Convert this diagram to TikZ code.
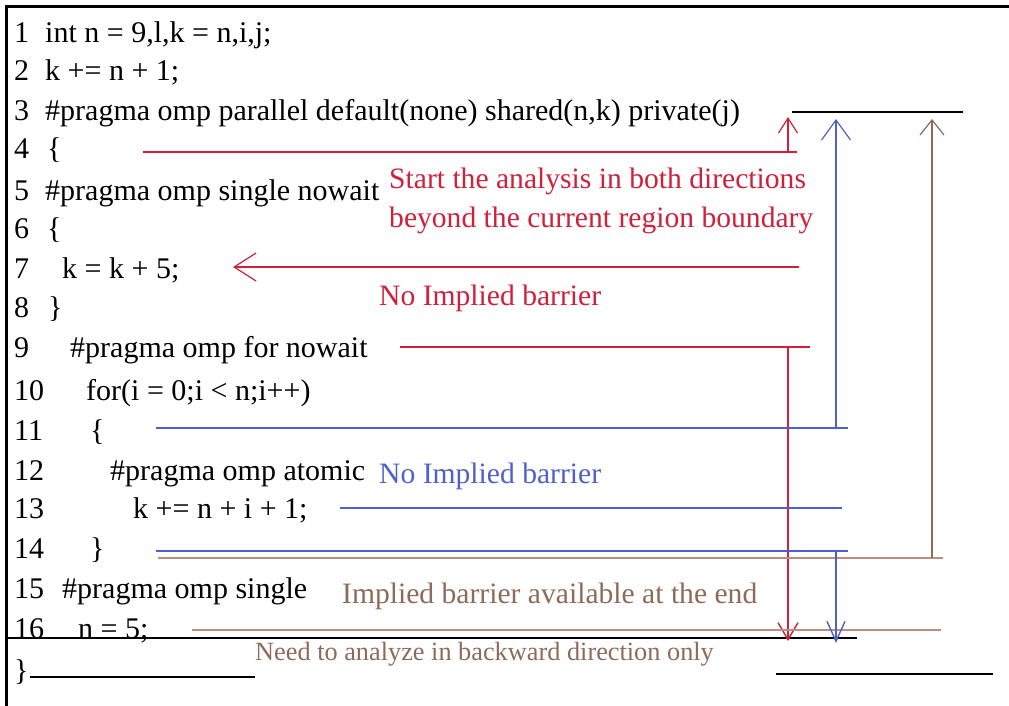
\documentclass[tikz,border=0pt]{standalone}
\usepackage{fontspec}
\setmainfont{Liberation Serif}
\usetikzlibrary{arrows.meta}
\definecolor{cred}{HTML}{D0203A}
\definecolor{cblue}{HTML}{4F60CC}
\definecolor{cbrown}{HTML}{8E6A58}
\definecolor{lbrown}{HTML}{B89080}
\begin{document}
\begin{tikzpicture}[x=1pt,y=-1pt,
  code/.style={anchor=base west,inner sep=0pt,font=\fontsize{30}{35}\selectfont},
  note/.style={anchor=base west,inner sep=0pt,font=\fontsize{29.6}{35}\selectfont},
  small/.style={anchor=base west,inner sep=0pt,font=\fontsize{26.3}{31}\selectfont,text=cbrown},
  redl/.style={draw=cred,line width=1.4pt},
  bluel/.style={draw=cblue,line width=1.4pt},
  brownl/.style={draw=lbrown,line width=1.4pt},
  blackl/.style={draw=black,line width=2pt},
]
\path[use as bounding box] (0,0) rectangle (1009,705);
% frame
\draw[line width=3pt] (6,712) -- (6,6) -- (1016,6);

% line numbers
\foreach \i/\y in {1/42,2/80,3/120,4/158,5/200,6/238,7/278,8/317,9/357,10/400,11/440,12/480,13/518,14/558,15/598,16/638}
  \node[code] (n\i) at (14,\y) {\i};

% code
\node[code] (c1) at (45,42) {int n = 9,l,k = n,i,j;};
\node[code] (c2) at (45,80) {k += n + 1;};
\node[code] (c3) at (45,120) {\#pragma omp parallel default(none) shared(n,k) private(j)};
\node[code] (c4) at (47,158) {\{};
\node[code] (c5) at (45,200) {\#pragma omp single nowait};
\node[code] (c6) at (47,238) {\{};
\node[code] (c7) at (62,278) {k = k + 5;};
\node[code] (c8) at (48,317) {\}};
\node[code] (c9) at (70,357) {\#pragma omp for nowait};
\node[code] (c10) at (86,400) {for(i = 0;i < n;i++)};
\node[code] (c11) at (90,440) {\{};
\node[code] (c12) at (110,480) {\#pragma omp atomic};
\node[code] (c13) at (133,518) {k += n + i + 1;};
\node[code] (c14) at (90,558) {\}};
\node[code] (c15) at (62,598) {\#pragma omp single};
\node[code] (c16) at (78,638) {n = 5;};
\node[code] (c17) at (14,680) {\}};

% notes
\node[note,text=cred] (t1) at (389,188) {Start the analysis in both directions};
\node[note,text=cred] (t2) at (389,227) {beyond the current region boundary};
\node[note,text=cred] (t3) at (379,305) {No Implied barrier};
\node[note,text=cblue] (t4) at (379,483) {No Implied barrier};
\node[note,text=cbrown] (t5) at (342,603) {Implied barrier available at the end};
\node[small] (t6) at (255,660) {Need to analyze in backward direction only};

% coordinates
\coordinate (r4a) at (143,152);  \coordinate (r4b) at (797,152);
\coordinate (r4u) at (788,152);  \coordinate (r4t) at (788,117);
\coordinate (r7a) at (799,267);  \coordinate (r7b) at (233,267);
\coordinate (r9a) at (400,347);  \coordinate (r9b) at (810,347);
\coordinate (r9d) at (788,347);  \coordinate (r9t) at (788,641);
\coordinate (b11a) at (156,428); \coordinate (b11b) at (848,428);
\coordinate (b11u) at (836,428); \coordinate (b11t) at (836,119);
\coordinate (b13a) at (340,508); \coordinate (b13b) at (842,508);
\coordinate (b14a) at (156,551); \coordinate (b14b) at (848,551);
\coordinate (b14d) at (836,551); \coordinate (b14t) at (836,643);
\coordinate (w14a) at (158,558); \coordinate (w14b) at (943,558);
\coordinate (w14u) at (932,558); \coordinate (w14t) at (932,119);
\coordinate (w16a) at (192,630); \coordinate (w16b) at (941,630);
\coordinate (k3a) at (792,112);  \coordinate (k3b) at (963,112);
\coordinate (k16a) at (6,638);   \coordinate (k16b) at (857,638);
\coordinate (k17a) at (776,674); \coordinate (k17b) at (993,674);
\coordinate (k18a) at (30,677);  \coordinate (k18b) at (255,677);

% black lines
\draw[blackl] (k3a) -- (k3b);
\draw[blackl] (k16a) -- (k16b);
\draw[blackl] (k17a) -- (k17b);
\draw[blackl] (k18a) -- (k18b);

% red
\draw[redl] (r4a) -- (r4b);
\draw[redl,-{Straight Barb[length=15pt,width=19pt,line width=1.2pt]}] (r4u) -- (r4t);
\draw[redl,-{Straight Barb[length=22pt,width=28pt,line width=1.2pt]}] (r7a) -- (r7b);
\draw[redl] (r9a) -- (r9b);
\draw[redl,-{Straight Barb[length=17pt,width=20pt,line width=1.4pt]}] (r9d) -- (r9t);

% brown
\draw[brownl] (w14a) -- (w14b);
\draw[brownl,draw=cbrown,-{Straight Barb[length=15pt,width=24pt,line width=1.2pt]}] (w14u) -- (w14t);
\draw[brownl] (w16a) -- (w16b);

% blue
\draw[bluel] (b11a) -- (b11b);
\draw[bluel,-{Straight Barb[length=20pt,width=29pt,line width=1.2pt]}] (b11u) -- (b11t);
\draw[bluel] (b13a) -- (b13b);
\draw[bluel] (b14a) -- (b14b);
\draw[bluel,-{Straight Barb[length=20pt,width=18pt,line width=1.4pt]}] (b14d) -- (b14t);
\end{tikzpicture}
\end{document}
